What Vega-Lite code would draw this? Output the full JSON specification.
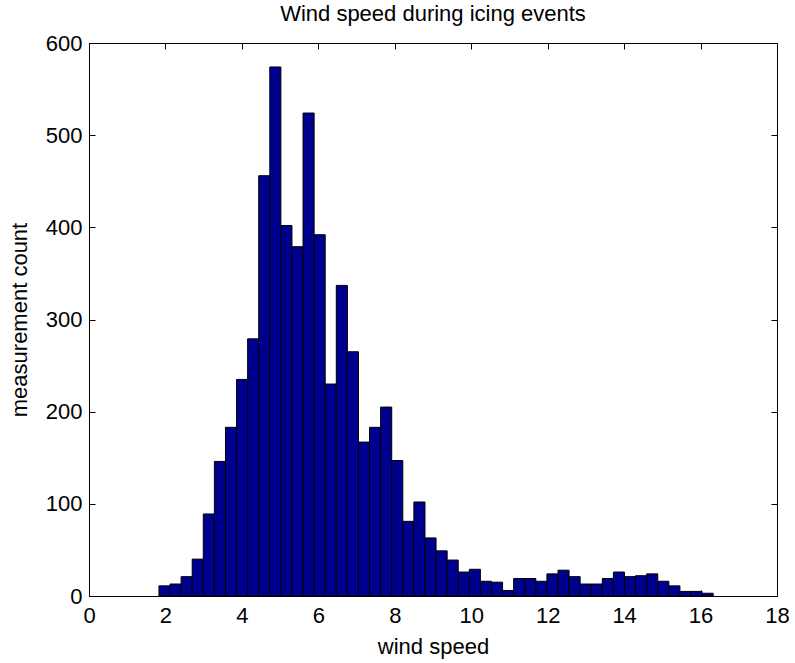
{
  "$schema": "https://vega.github.io/schema/vega-lite/v6.json",
  "width": 688,
  "height": 553,
  "autosize": {"type": "none"},
  "padding": {"left": 89, "top": 43, "right": 18, "bottom": 67},
  "background": "white",
  "config": {
    "view": {"stroke": "black", "strokeWidth": 1},
    "font": "Liberation Sans",
    "axis": {
      "domain": false,
      "tickColor": "black",
      "labelColor": "black",
      "titleColor": "black",
      "labelFont": "Liberation Sans",
      "titleFont": "Liberation Sans",
      "labelFontSize": 22,
      "titleFontSize": 22,
      "titleFontWeight": "normal",
      "grid": false,
      "tickSize": 6,
      "tickWidth": 1
    }
  },
  "title": {
    "text": "Wind speed during icing events",
    "font": "Liberation Sans",
    "fontSize": 22,
    "fontWeight": "normal",
    "color": "black",
    "offset": 6
  },
  "data": {
    "values": [
      {"x0": 1.83, "x1": 2.12, "count": 11},
      {"x0": 2.12, "x1": 2.41, "count": 13},
      {"x0": 2.41, "x1": 2.70, "count": 21},
      {"x0": 2.70, "x1": 2.99, "count": 40},
      {"x0": 2.99, "x1": 3.28, "count": 89},
      {"x0": 3.28, "x1": 3.57, "count": 146},
      {"x0": 3.57, "x1": 3.86, "count": 183},
      {"x0": 3.86, "x1": 4.15, "count": 235},
      {"x0": 4.15, "x1": 4.44, "count": 279},
      {"x0": 4.44, "x1": 4.73, "count": 456},
      {"x0": 4.73, "x1": 5.02, "count": 574},
      {"x0": 5.02, "x1": 5.31, "count": 402},
      {"x0": 5.31, "x1": 5.60, "count": 379},
      {"x0": 5.60, "x1": 5.89, "count": 524},
      {"x0": 5.89, "x1": 6.18, "count": 392},
      {"x0": 6.18, "x1": 6.47, "count": 230},
      {"x0": 6.47, "x1": 6.76, "count": 337},
      {"x0": 6.76, "x1": 7.05, "count": 265},
      {"x0": 7.05, "x1": 7.34, "count": 167},
      {"x0": 7.34, "x1": 7.63, "count": 183},
      {"x0": 7.63, "x1": 7.92, "count": 205},
      {"x0": 7.92, "x1": 8.21, "count": 147},
      {"x0": 8.21, "x1": 8.50, "count": 81},
      {"x0": 8.50, "x1": 8.79, "count": 102},
      {"x0": 8.79, "x1": 9.08, "count": 63},
      {"x0": 9.08, "x1": 9.37, "count": 49},
      {"x0": 9.37, "x1": 9.66, "count": 39},
      {"x0": 9.66, "x1": 9.95, "count": 26},
      {"x0": 9.95, "x1": 10.24, "count": 29},
      {"x0": 10.24, "x1": 10.53, "count": 16},
      {"x0": 10.53, "x1": 10.82, "count": 15},
      {"x0": 10.82, "x1": 11.11, "count": 6},
      {"x0": 11.11, "x1": 11.40, "count": 19},
      {"x0": 11.40, "x1": 11.69, "count": 19},
      {"x0": 11.69, "x1": 11.98, "count": 16},
      {"x0": 11.98, "x1": 12.27, "count": 24},
      {"x0": 12.27, "x1": 12.56, "count": 28},
      {"x0": 12.56, "x1": 12.85, "count": 21},
      {"x0": 12.85, "x1": 13.14, "count": 13},
      {"x0": 13.14, "x1": 13.43, "count": 13},
      {"x0": 13.43, "x1": 13.72, "count": 19},
      {"x0": 13.72, "x1": 14.01, "count": 26},
      {"x0": 14.01, "x1": 14.30, "count": 21},
      {"x0": 14.30, "x1": 14.59, "count": 22},
      {"x0": 14.59, "x1": 14.88, "count": 24},
      {"x0": 14.88, "x1": 15.17, "count": 16},
      {"x0": 15.17, "x1": 15.46, "count": 11},
      {"x0": 15.46, "x1": 15.75, "count": 5},
      {"x0": 15.75, "x1": 16.04, "count": 5},
      {"x0": 16.04, "x1": 16.33, "count": 3}
    ]
  },
  "layer": [
    {
      "mark": {"type": "bar", "fill": "#00008F", "stroke": "black", "strokeWidth": 1},
      "encoding": {
        "x": {
          "field": "x0", "type": "quantitative",
          "scale": {"domain": [0, 18], "nice": false, "zero": false},
          "axis": {"orient": "bottom", "values": [0, 2, 4, 6, 8, 10, 12, 14, 16, 18], "ticks": false, "title": "wind speed", "labelPadding": 9, "titlePadding": 10, "labelFlush": false}
        },
        "x2": {"field": "x1"},
        "y": {
          "field": "count", "type": "quantitative",
          "scale": {"domain": [0, 600], "nice": false},
          "axis": {"orient": "left", "values": [0, 100, 200, 300, 400, 500, 600], "ticks": false, "title": "measurement count", "labelPadding": 7, "titlePadding": 14, "labelFlush": false}
        },
        "y2": {"datum": 0}
      }
    },
    {
      "mark": {"type": "bar", "opacity": 0},
      "encoding": {
        "x": {
          "field": "x0", "type": "quantitative",
          "scale": {"domain": [0, 18], "nice": false, "zero": false},
          "axis": {"orient": "top", "offset": -553, "values": [0, 2, 4, 6, 8, 10, 12, 14, 16, 18], "title": null, "labels": false}
        },
        "x2": {"field": "x1"},
        "y": {
          "field": "count", "type": "quantitative",
          "scale": {"domain": [0, 600], "nice": false},
          "axis": {"orient": "right", "offset": -688, "values": [0, 100, 200, 300, 400, 500, 600], "title": null, "labels": false}
        },
        "y2": {"datum": 0}
      }
    },
    {
      "mark": {"type": "bar", "opacity": 0},
      "encoding": {
        "x": {
          "field": "x0", "type": "quantitative",
          "scale": {"domain": [0, 18], "nice": false, "zero": false},
          "axis": {"orient": "bottom", "offset": -553, "values": [0, 2, 4, 6, 8, 10, 12, 14, 16, 18], "title": null, "labels": false}
        },
        "x2": {"field": "x1"},
        "y": {
          "field": "count", "type": "quantitative",
          "scale": {"domain": [0, 600], "nice": false},
          "axis": {"orient": "left", "offset": -688, "values": [0, 100, 200, 300, 400, 500, 600], "title": null, "labels": false}
        },
        "y2": {"datum": 0}
      }
    }
  ],
  "resolve": {"axis": {"x": "independent", "y": "independent"}}
}
